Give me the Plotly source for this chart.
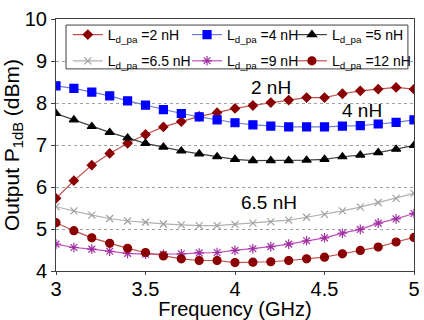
import plotly.graph_objects as go

freq = [round(3.0 + 0.1 * i, 1) for i in range(21)]

p_2nH = [5.73, 6.15, 6.52, 6.80, 7.04, 7.25, 7.43, 7.56, 7.68, 7.77, 7.87,
         7.94, 8.01, 8.07, 8.13, 8.13, 8.22, 8.29, 8.33, 8.37, 8.33]
p_4nH = [8.41, 8.35, 8.26, 8.17, 8.05, 7.95, 7.84, 7.75, 7.67, 7.60, 7.53,
         7.48, 7.45, 7.43, 7.43, 7.43, 7.45, 7.46, 7.50, 7.54, 7.60]
p_5nH = [7.75, 7.60, 7.44, 7.30, 7.17, 7.04, 6.95, 6.86, 6.79, 6.72, 6.66,
         6.63, 6.63, 6.63, 6.64, 6.66, 6.72, 6.76, 6.82, 6.90, 6.99]
p_6p5nH = [5.53, 5.43, 5.33, 5.25, 5.19, 5.16, 5.12, 5.10, 5.08, 5.08, 5.11,
           5.14, 5.17, 5.21, 5.28, 5.35, 5.43, 5.52, 5.63, 5.73, 5.85]
p_9nH = [4.64, 4.56, 4.52, 4.47, 4.42, 4.40, 4.40, 4.41, 4.43, 4.44, 4.49,
         4.53, 4.58, 4.64, 4.72, 4.79, 4.90, 4.99, 5.14, 5.24, 5.37]
p_12nH = [5.15, 4.96, 4.79, 4.66, 4.54, 4.44, 4.36, 4.29, 4.25, 4.25, 4.20,
          4.21, 4.22, 4.25, 4.29, 4.33, 4.41, 4.49, 4.57, 4.69, 4.80]

labels = ["2 nH", "4 nH", "5 nH", "6.5 nH", "9 nH", "12 nH"]
series = [p_2nH, p_4nH, p_5nH, p_6p5nH, p_9nH, p_12nH]
styles = [
    dict(line="#c0504d", mcolor="#8b0000", symbol="diamond", size=7),
    dict(line="#6f7fd0", mcolor="#0000ff", symbol="square", size=8),
    dict(line="#404040", mcolor="#000000", symbol="triangle-up", size=8),
    dict(line="#b0b0b0", mcolor="#a0a0a0", symbol="x-thin-open", size=7),
    dict(line="#c050c0", mcolor="#a030a0", symbol="asterisk-open", size=8),
    dict(line="#c0504d", mcolor="#8b0000", symbol="circle", size=8),
]
# legend column for each trace (3 columns, 2 rows, row-major like the reference)
legend_ids = ["legend", "legend2", "legend3", "legend", "legend2", "legend3"]

fig = go.Figure()
for i, (lab, ys, st) in enumerate(zip(labels, series, styles)):
    fig.add_trace(go.Scatter(
        x=freq, y=ys, mode="lines+markers",
        name="L<sub>d_pa</sub> =" + lab,
        legend=legend_ids[i], legendgroup="g%d" % i,
        line=dict(color=st["line"], width=1.2),
        marker=dict(symbol=st["symbol"], size=st["size"], color=st["mcolor"],
                    line=dict(color=st["mcolor"], width=1.2)),
    ))

ann_font = dict(family="Liberation Sans, Arial", size=19, color="#000")
fig.add_annotation(x=4.2, y=8.36, text="2 nH", showarrow=False, font=ann_font)
fig.add_annotation(x=4.71, y=7.81, text="4 nH", showarrow=False, font=ann_font)
fig.add_annotation(x=4.19, y=5.62, text="6.5 nH", showarrow=False, font=ann_font)

# legend frame
fig.add_shape(type="rect", xref="paper", yref="paper",
              x0=0.028, x1=0.983, y0=0.802, y1=0.976,
              fillcolor="white", line=dict(color="#404040", width=1), layer="above")

leg_common = dict(yanchor="top", xanchor="left", y=1.0,
                  bgcolor="rgba(0,0,0,0)", borderwidth=0,
                  font=dict(size=14, family="Liberation Sans, Arial"),
                  itemwidth=30, tracegroupgap=5, orientation="v")

fig.update_layout(
    width=424, height=320,
    margin=dict(l=56, r=7, t=19, b=49),
    paper_bgcolor="white", plot_bgcolor="white",
    font=dict(family="Liberation Sans, Arial", size=20, color="#000"),
    showlegend=True,
    legend=dict(x=0.033, **leg_common),
    legend2=dict(x=0.366, **leg_common),
    legend3=dict(x=0.659, **leg_common),
    xaxis=dict(
        range=[3, 5], tickvals=[3, 3.5, 4, 4.5, 5], ticktext=["3", "3.5", "4", "4.5", "5"],
        showgrid=False, zeroline=False, automargin=False,
        showline=True, linecolor="#404040", linewidth=1, mirror=True,
        ticks="outside", ticklen=3, tickcolor="#404040", ticklabelstandoff=-3,
        title=dict(text="Frequency (GHz)", standoff=3, font=dict(size=20)),
        tickfont=dict(size=20),
    ),
    yaxis=dict(
        range=[4, 10], tickvals=[4, 5, 6, 7, 8, 9, 10],
        showgrid=True, gridcolor="#a0a0a0", griddash="dot", gridwidth=1,
        zeroline=False, automargin=False,
        showline=True, linecolor="#404040", linewidth=1, mirror=True,
        ticks="outside", ticklen=4, tickcolor="#404040",
        title=dict(text="Output P<sub>1dB</sub> (dBm)", standoff=4, font=dict(size=21)),
        tickfont=dict(size=20),
    ),
)

fig.write_html("out.html")
